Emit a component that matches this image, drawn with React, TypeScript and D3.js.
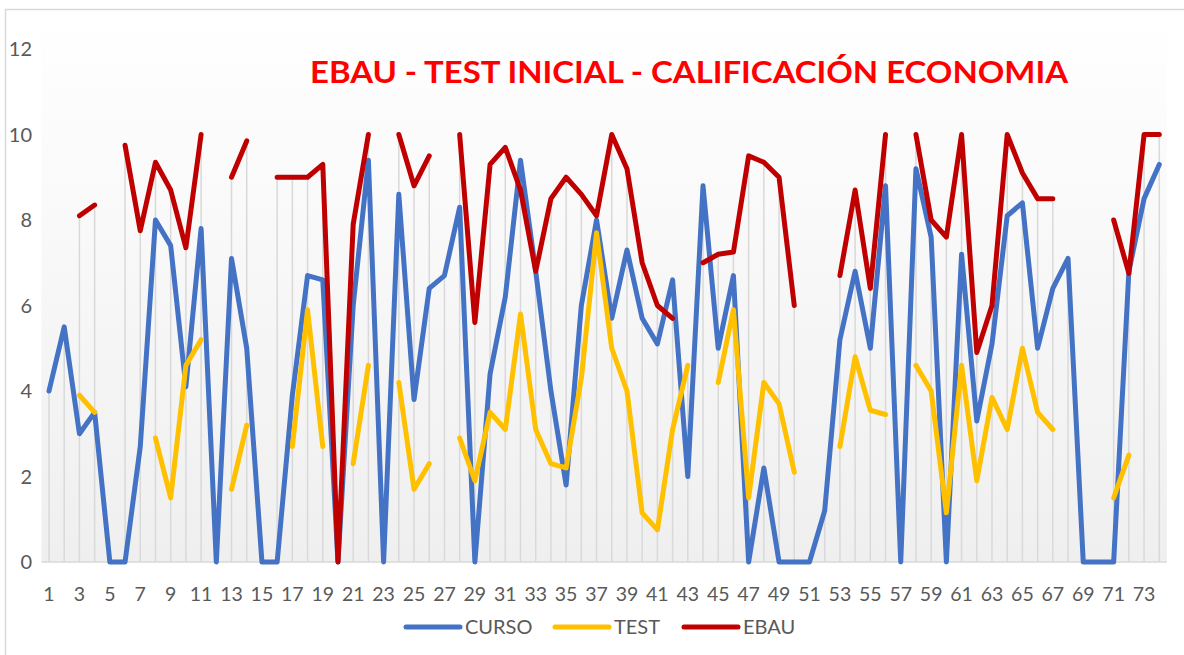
import React from "react";
import * as d3 from "d3";

const categories: number[] = d3.range(1, 75);

const curso: (number | null)[] = [
  4.0, 5.5, 3.0, 3.5, 0, 0, 2.7, 8.0, 7.4, 4.1, 7.8, 0, 7.1, 5.0, 0, 0, 3.9, 6.7, 6.6, 0,
  6.0, 9.4, 0, 8.6, 3.8, 6.4, 6.7, 8.3, 0, 4.4, 6.2, 9.4, 6.8, 4.0, 1.8, 6.0, 8.0, 5.7, 7.3, 5.7,
  5.1, 6.6, 2.0, 8.8, 5.0, 6.7, 0, 2.2, 0, 0, 0, 1.2, 5.2, 6.8, 5.0, 8.8, 0, 9.2, 7.6, 0,
  7.2, 3.3, 5.1, 8.1, 8.4, 5.0, 6.4, 7.1, 0, 0, 0, 6.8, 8.5, 9.3,
];

const test: (number | null)[] = [
  null, null, 3.9, 3.5, null, null, null, 2.9, 1.5, 4.6, 5.2, null, 1.7, 3.2, null, null, 2.7, 5.9, 2.7, null,
  2.3, 4.6, null, 4.2, 1.7, 2.3, null, 2.9, 1.9, 3.5, 3.1, 5.8, 3.1, 2.3, 2.2, 4.3, 7.7, 5.0, 4.0, 1.15,
  0.75, 3.1, 4.6, null, 4.2, 5.9, 1.5, 4.2, 3.7, 2.1, null, null, 2.7, 4.8, 3.55, 3.45, null, 4.6, 4.0, 1.15,
  4.6, 1.9, 3.85, 3.1, 5.0, 3.5, 3.1, null, null, null, 1.5, 2.5, null, null,
];

const ebau: (number | null)[] = [
  null, null, 8.1, 8.35, null, 9.75, 7.75, 9.35, 8.7, 7.35, 10.0, null, 9.0, 9.85, null, 9.0, 9.0, 9.0, 9.3, 0,
  7.9, 10.0, null, 10.0, 8.8, 9.5, null, 10.0, 5.6, 9.3, 9.7, 8.7, 6.8, 8.5, 9.0, 8.6, 8.1, 10.0, 9.2, 7.0,
  6.0, 5.7, null, 7.0, 7.2, 7.25, 9.5, 9.35, 9.0, 6.0, null, null, 6.7, 8.7, 6.4, 10.0, null, 10.0, 8.0, 7.6,
  10.0, 4.9, 6.0, 10.0, 9.1, 8.5, 8.5, null, null, null, 8.0, 6.75, 10.0, 10.0,
];

const yTicks: number[] = [0, 2, 4, 6, 8, 10, 12];
const xTickLabels: number[] = categories.filter((c) => c % 2 === 1);

const seriesNames = ["CURSO", "TEST", "EBAU"];
const seriesColors = ["#4472C4", "#FFC000", "#C00000"];
const titleText = "EBAU - TEST INICIAL - CALIFICACIÓN ECONOMIA";

export default function App() {
  const W = 1184;
  const H = 655;
  const x = d3
    .scaleBand<number>()
    .domain(categories)
    .range([41.4, 1166.9]);
  const cx = (c: number) => (x(c) as number) + x.bandwidth() / 2;
  const y = d3.scaleLinear().domain([0, 12]).range([562, 49]);

  const allSeries = [curso, test, ebau];
  const lineGen = d3
    .line<number | null>()
    .defined((d) => d !== null)
    .x((_, i) => cx(categories[i]))
    .y((d) => y(d as number));

  const font = "Lato, 'Open Sans', sans-serif";
  const axisColor = "#595959";

  const legendItems = [
    { x1: 406, x2: 460, tx: 465 },
    { x1: 555, x2: 609, tx: 614 },
    { x1: 684, x2: 738, tx: 743 },
  ];

  return (
    <svg
      width={W}
      height={H}
      style={{ position: "absolute", left: 0, top: 0, background: "#fff" }}
    >
      <defs>
        <linearGradient id="plotbg" x1="0" y1="0" x2="0" y2="1">
          <stop offset="0" stopColor="#ffffff" />
          <stop offset="1" stopColor="#efefef" />
        </linearGradient>
      </defs>
      <rect x={5.5} y={9.5} width={1300} height={700} fill="#fff" stroke="#d9d9d9" strokeWidth={1.5} />
      <rect x={41.4} y={12} width={1166.9 - 41.4} height={562 - 12} fill="url(#plotbg)" />
      {/* drop lines */}
      {categories.map((c, i) => {
        const vals = allSeries.map((s) => s[i]).filter((v) => v !== null) as number[];
        const m = vals.length ? d3.max(vals)! : 0;
        return (
          <line
            key={"g" + c}
            x1={cx(c)}
            x2={cx(c)}
            y1={y(0)}
            y2={y(m)}
            stroke="#d9d9d9"
            strokeWidth={1.5}
          />
        );
      })}
      <line x1={41.4} x2={1166.9} y1={y(0)} y2={y(0)} stroke="#d9d9d9" strokeWidth={1.5} />
      {/* y tick labels */}
      {yTicks.map((t) => (
        <text
          key={"y" + t}
          x={32}
          y={y(t)}
          dy="0.35em"
          textAnchor="end"
          fontFamily={font}
          fontSize={20}
          fill={axisColor}
        >
          {t}
        </text>
      ))}
      {/* x tick labels */}
      {xTickLabels.map((c) => (
        <text
          key={"x" + c}
          x={cx(c)}
          y={594}
          dy="0.35em"
          textAnchor="middle"
          fontFamily={font}
          fontSize={19.5}
          fill={axisColor}
        >
          {c}
        </text>
      ))}
      {/* series */}
      {allSeries.map((s, k) => (
        <path
          key={"s" + k}
          d={lineGen(s) || ""}
          fill="none"
          stroke={seriesColors[k]}
          strokeWidth={5}
          strokeLinecap="round"
          strokeLinejoin="round"
        />
      ))}
      {/* title */}
      <text
        x={310}
        y={72}
        dy="0.35em"
        fontFamily={font}
        fontWeight="bold"
        fontSize={30}
        fill="#FF0000"
        textLength={758}
        lengthAdjust="spacingAndGlyphs"
      >
        {titleText}
      </text>
      {/* legend */}
      {legendItems.map((l, k) => (
        <g key={"l" + k}>
          <line
            x1={l.x1}
            x2={l.x2}
            y1={627}
            y2={627}
            stroke={seriesColors[k]}
            strokeWidth={5}
            strokeLinecap="round"
          />
          <text
            x={l.tx}
            y={627}
            dy="0.35em"
            fontFamily={font}
            fontSize={20}
            fill={axisColor}
          >
            {seriesNames[k]}
          </text>
        </g>
      ))}
    </svg>
  );
}
